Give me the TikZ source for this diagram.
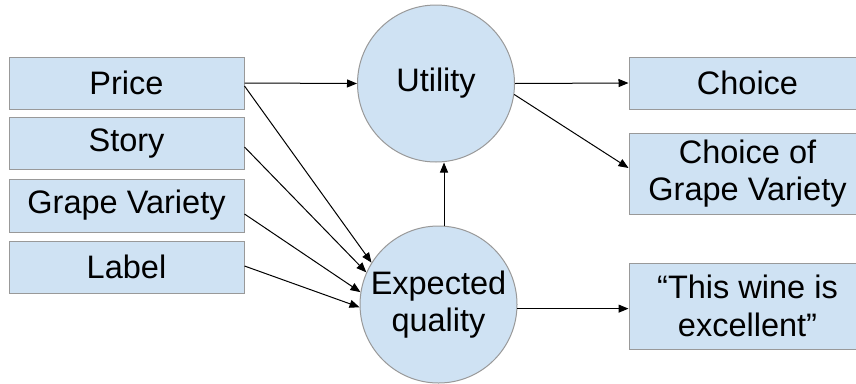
\documentclass[tikz,border=0pt]{standalone}
\usepackage{fontspec}
\setmainfont{Liberation Sans}
\usetikzlibrary{arrows.meta}
\definecolor{boxfill}{HTML}{CFE2F3}
\definecolor{boxline}{HTML}{999999}
\begin{document}
\begin{tikzpicture}[x=1pt,y=-1pt,
  every node/.style={font=\fontsize{32.5}{37.5}\selectfont, align=center, inner sep=0pt},
  box/.style={draw=boxline, fill=boxfill, line width=1pt, rectangle, minimum width=235pt},
  bubble/.style={draw=boxline, fill=boxfill, line width=1pt, circle, minimum size=157pt},
  arr/.style={-{Triangle[length=10pt,width=8pt]}, line width=1pt, black}]
\useasboundingbox (0,0) rectangle (856,383);
\clip (0,0) rectangle (856,383);
% left boxes
\node[box, minimum height=52pt] (price) at (126.5,83) {Price};
\node[box, minimum height=52pt] (story) at (126.5,143.5) {Story};
\node[box, minimum height=53pt] (grape) at (126.5,205.5) {Grape Variety};
\node[box, minimum height=52pt] (label) at (126.5,267) {Label};
% circles
\node[bubble] (U) at (436,83.5) {Utility};
\node[bubble] (EQ) at (438.5,304.5) {Expected\\quality};
% right boxes
\node[box, minimum width=237pt, minimum height=52pt] (choice) at (747.5,83) {Choice};
\node[box, minimum width=237pt, minimum height=81pt] (cgv) at (747.5,173.5) {Choice of\\Grape Variety};
\node[box, minimum width=237pt, minimum height=86pt] (wine) at (747.5,306) {\char"201C This wine is\\excellent\char"201D};
% connectors
\draw[arr] (price.east) -- (U.west);
\draw[arr] ([yshift=-3pt]price.east) -- (EQ.148);
\draw[arr] ([yshift=-3.5pt]story.east) -- (EQ.156);
\draw[arr] ([yshift=-8.5pt]grape.east) -- (EQ.171);
\draw[arr] ([yshift=1pt]label.east) -- (EQ.182);
\draw[arr] (EQ.86) -- (EQ.86 |- U.south);
\draw[arr] (U.east) -- (choice.west);
\draw[arr] (U.-8) -- ([yshift=5.5pt]cgv.west);
\draw[arr] (EQ.-3) -- (EQ.-3 -| wine.west);
\end{tikzpicture}
\end{document}
